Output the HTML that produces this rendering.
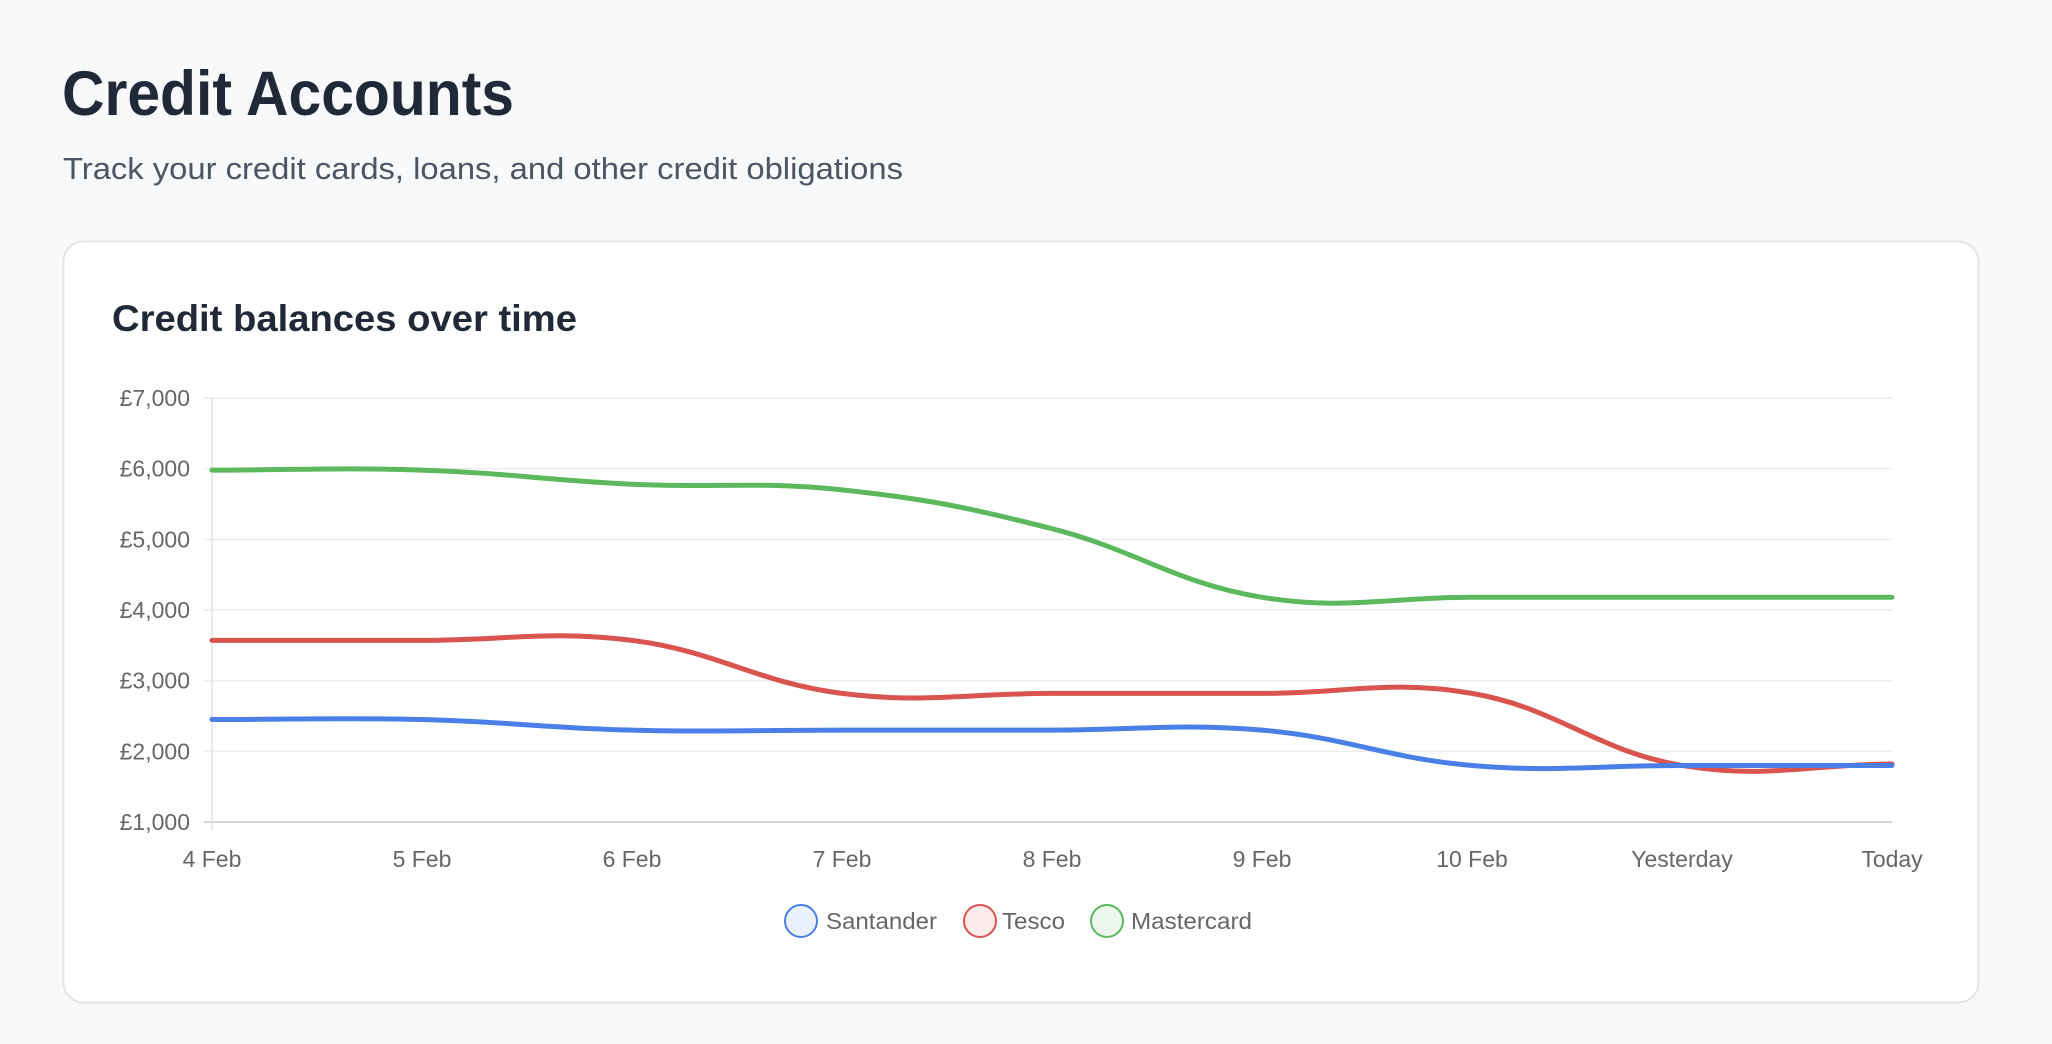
<!DOCTYPE html>
<html><head><meta charset="utf-8"><style>
html,body{margin:0;padding:0;background:#f8f9fb;}
svg{display:block;}
</style></head><body>
<svg id="s" width="2052" height="1044" xmlns="http://www.w3.org/2000/svg" font-family="Liberation Sans, sans-serif">
<rect width="2052" height="1044" fill="#f8f9fb"/>
<text x="62" y="115" font-size="63" font-weight="bold" fill="#1f2937" textLength="452" lengthAdjust="spacingAndGlyphs">Credit Accounts</text>
<text x="63" y="179" font-size="31" fill="#4b5563" textLength="840" lengthAdjust="spacingAndGlyphs">Track your credit cards, loans, and other credit obligations</text>
<rect x="63.5" y="241.5" width="1915" height="761" rx="20" fill="#fff" stroke="#e2e4e8" stroke-width="2"/>
<text x="112" y="331" font-size="37" font-weight="bold" fill="#1f2937" textLength="465" lengthAdjust="spacingAndGlyphs">Credit balances over time</text>
<g id="grid"></g>
<g id="lines" fill="none" stroke-width="5" stroke-linejoin="round" stroke-linecap="round"></g>
<g font-size="23" fill="#666">
<circle cx="801" cy="921" r="16" fill="#eaf1fd" stroke="#4a7fe8" stroke-width="2"/>
<text x="826" y="929" textLength="111" lengthAdjust="spacingAndGlyphs">Santander</text>
<circle cx="980" cy="921" r="16" fill="#fbeceb" stroke="#d9534f" stroke-width="2"/>
<text x="1002" y="929" textLength="63" lengthAdjust="spacingAndGlyphs">Tesco</text>
<circle cx="1107" cy="921" r="16" fill="#edf7ed" stroke="#5cb85c" stroke-width="2"/>
<text x="1131" y="929" textLength="121" lengthAdjust="spacingAndGlyphs">Mastercard</text>
</g>
</svg>
<script>
var NS="http://www.w3.org/2000/svg",x0=212,x1=1892,yT=398,yB=822;
function Y(v){return yB-(v-1000)/6000*(yB-yT);}
function X(i){return x0+i*(x1-x0)/8;}
var g=document.getElementById('grid'),h='';
for(var k=1;k<=7;k++){var y=Y(k*1000);
h+='<line x1="'+(x0-8)+'" x2="'+x1+'" y1="'+y+'" y2="'+y+'" stroke="'+(k==1?'#d6d6d6':'#ececec')+'" stroke-width="'+(k==1?2:1.5)+'"/>';
h+='<text x="190" y="'+(y+8)+'" font-size="23" fill="#666" text-anchor="end">£'+k+',000</text>';}
h+='<line x1="'+x0+'" x2="'+x0+'" y1="'+yT+'" y2="'+(yB+8)+'" stroke="#e0e0e0" stroke-width="1.5"/>';
var lab=['4 Feb','5 Feb','6 Feb','7 Feb','8 Feb','9 Feb','10 Feb','Yesterday','Today'];
for(var i=0;i<9;i++)h+='<text x="'+X(i)+'" y="867" font-size="23" fill="#666" text-anchor="middle">'+lab[i]+'</text>';
g.innerHTML=h;
var data=[['#5cb85c',[5980,5980,5780,5700,5150,4180,4180,4180,4180]],
['#d9534f',[3570,3570,3570,2820,2820,2820,2820,1800,1820]],
['#4a7fe8',[2450,2450,2300,2300,2300,2300,1800,1800,1800]]];
var L=document.getElementById('lines'),out='';
data.forEach(function(d){
var p=d[1].map(function(v,i){return [X(i),Y(v)];}),t=0.4,c=[];
for(var i=0;i<p.length;i++){var a=p[i-1]||p[i],b=p[i],n=p[i+1]||p[i];
var d01=Math.hypot(b[0]-a[0],b[1]-a[1]),d12=Math.hypot(n[0]-b[0],n[1]-b[1]);
var s01=d01/(d01+d12)||0,s12=d12/(d01+d12)||0;var fa=t*s01,fb=t*s12;
c.push([[b[0]-fa*(n[0]-a[0]),b[1]-fa*(n[1]-a[1])],[b[0]+fb*(n[0]-a[0]),b[1]+fb*(n[1]-a[1])]]);}
var s='M'+p[0][0]+','+p[0][1];
for(var i=1;i<p.length;i++)s+='C'+c[i-1][1][0]+','+c[i-1][1][1]+' '+c[i][0][0]+','+c[i][0][1]+' '+p[i][0]+','+p[i][1];
out+='<path d="'+s+'" stroke="'+d[0]+'"/>';});
L.innerHTML=out;
</script>
</body></html>
